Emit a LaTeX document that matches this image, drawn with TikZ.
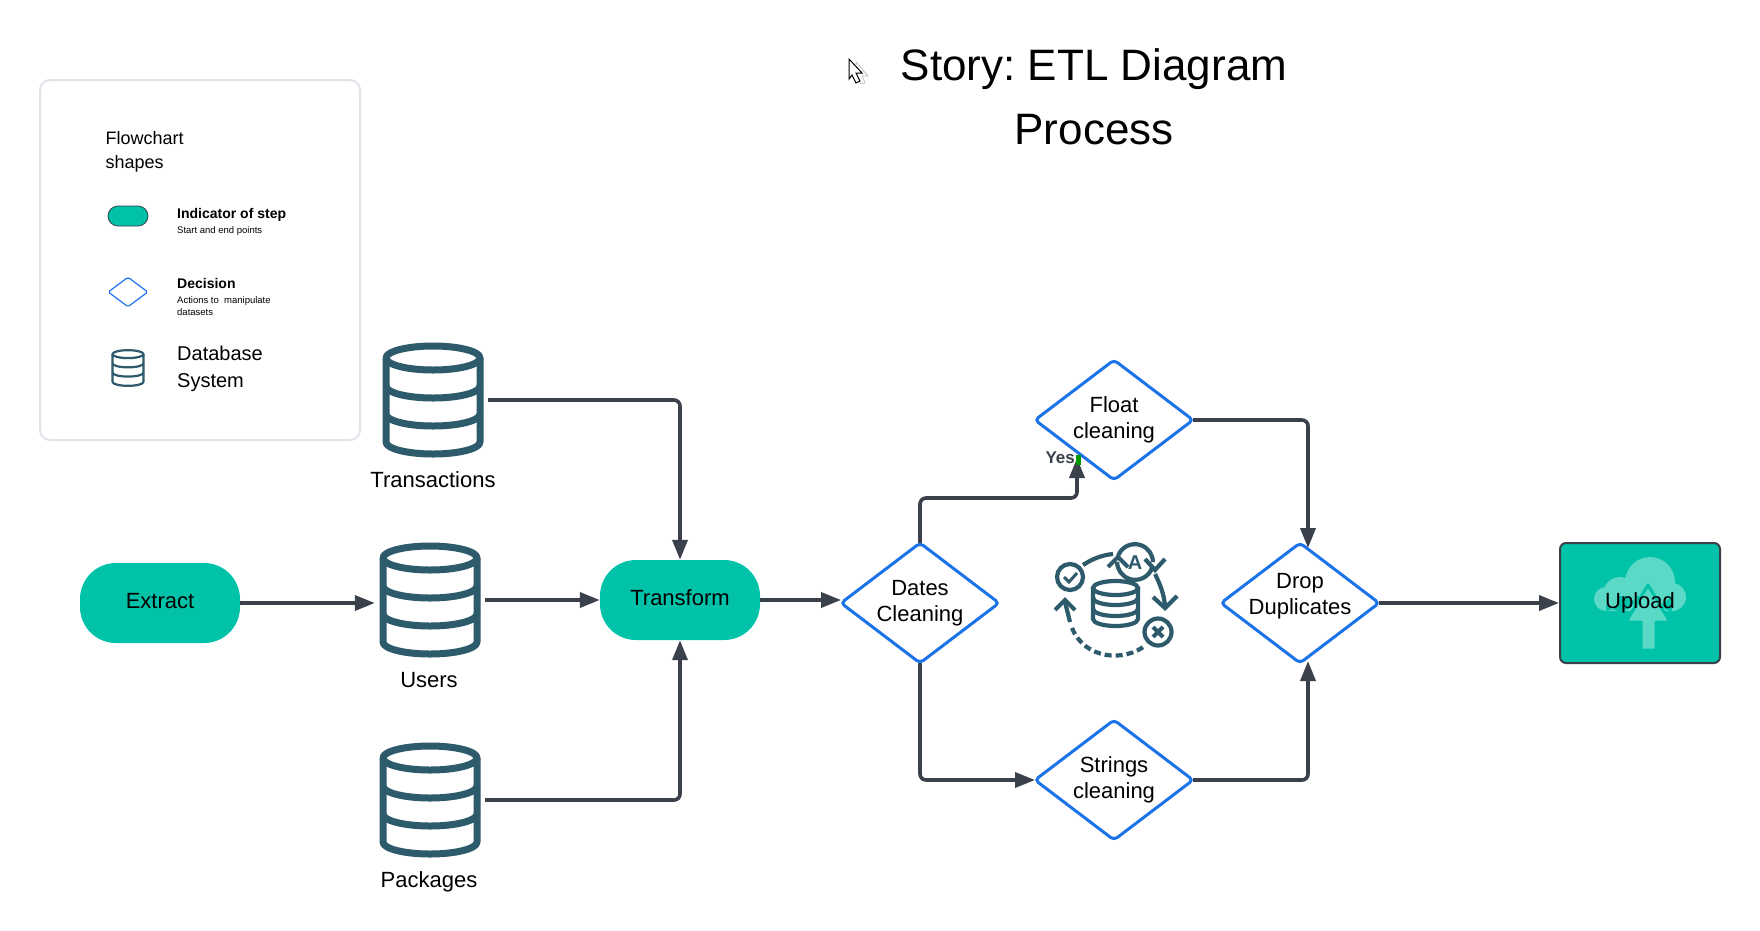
\documentclass[tikz,border=0pt]{standalone}
\usepackage{fontspec}
\setmainfont{Liberation Sans}
\frenchspacing
\usetikzlibrary{shapes.geometric, arrows.meta, positioning, calc}
\definecolor{stepteal}{RGB}{0, 194, 168}
\definecolor{cloudteal}{RGB}{90, 217, 199}
\definecolor{decisionblue}{RGB}{26, 115, 232}
\definecolor{linedark}{RGB}{58, 65, 74}
\definecolor{dbslate}{RGB}{45, 91, 107}
\definecolor{legendgrey}{RGB}{224, 227, 234}
\newcommand{\fs}[1]{\fontsize{#1}{1.18\dimexpr#1pt\relax}\selectfont}
\tikzstyle{stepnode} = [rectangle, rounded corners=35.9pt, fill=stepteal, minimum width=160pt, minimum height=80pt, font=\fs{22}, inner sep=0pt, text height=16pt, text depth=6pt]
\tikzstyle{decision} = [diamond, draw=decisionblue, fill=white, aspect=1.32, rounded corners=4pt, minimum width=158pt, minimum height=120pt, font=\fs{22}, align=center, inner sep=0pt, outer sep=0pt, line width=3pt]
\tikzstyle{dbnode} = [rectangle, minimum width=110pt, minimum height=112pt, inner sep=0pt]
\tikzstyle{label} = [font=\fs{22}, inner sep=0pt]
\tikzstyle{legendtext} = [anchor=base west, inner sep=0pt, align=left]
\tikzstyle{arrow} = [-{Stealth[inset=0pt, length=20pt, width=15pt]}, draw=linedark, line width=3.6pt, rounded corners=6pt]
\newcommand{\dbicon}[3]{%
  \begin{scope}[shift={(#1)}, scale=#2, draw=dbslate, line width=#3, line join=round]
    \draw (0,-42) ellipse [x radius=47, y radius=12];
    \draw (-47,-42) -- (-47,42) arc [start angle=180, end angle=0, x radius=47, y radius=12] -- (47,-42);
    \draw (-47,-14) arc [start angle=180, end angle=0, x radius=47, y radius=12];
    \draw (-47,14) arc [start angle=180, end angle=0, x radius=47, y radius=12];
  \end{scope}}
\begin{document}
\begin{tikzpicture}[x=1pt, y=-1pt]
    \useasboundingbox (0,0) rectangle (1760,930);

    % Title
    \node[font=\fs{44}, align=center, inner sep=0pt] (title) at (1094,97) {Story: ETL Diagram\\[12pt]Process};

    % Cursor
    \draw[gray!50, fill=white, line width=0.8pt] (856,62) -- (868,76) -- (862,76) -- (865,83) -- (861,84) -- (858,78) -- (856,80) -- cycle;
    \draw[black, fill=white, line width=1pt] (849,59) -- (862,73) -- (856,73) -- (860,81) -- (856,83) -- (852,75) -- (849,79) -- cycle;

    % Legend
    \node[rectangle, draw=legendgrey, fill=white, line width=2pt, rounded corners=10pt, minimum width=320pt, minimum height=360pt] (legend) at (200,260) {};
    \node[legendtext, font=\fs{18}] (legendtitle) at (105.5,144) {Flowchart};
    \node[legendtext, font=\fs{18}] (legendtitleb) at (105.5,168) {shapes};
    \node[rectangle, draw=linedark, fill=stepteal, line width=0.8pt, rounded corners=10pt, minimum width=40pt, minimum height=20pt, inner sep=0pt] (legendstep) at (128,216) {};
    \node[legendtext, font=\fs{14}\bfseries] (steptitle) at (177,218) {Indicator of step};
    \node[legendtext, font=\fs{9.5}] (steptext) at (177,233) {Start and end points};
    \node[diamond, draw=decisionblue, line width=1.2pt, aspect=1.33, rounded corners=1.5pt, minimum width=40pt, minimum height=30pt, inner sep=0pt] (legenddec) at (128,292) {};
    \node[legendtext, font=\fs{14}\bfseries] (dectitle) at (177,288) {Decision};
    \node[legendtext, font=\fs{9.5}] (dectext) at (177,303) {Actions to \ manipulate};
    \node[legendtext, font=\fs{9.5}] (dectextb) at (177,315) {datasets};
    \dbicon{128,368}{0.33}{2.2pt}
    \node[legendtext, font=\fs{20}] (legenddb) at (177,360) {Database};
    \node[legendtext, font=\fs{20}] (legenddbb) at (177,387) {System};

    % Databases
    \node[dbnode] (transactions) at (433,400) {};
    \dbicon{433,400}{1}{7pt}
    \node[label] (transactionslabel) at (433,480) {Transactions};
    \node[dbnode] (users) at (430,600) {};
    \dbicon{430,600}{1}{7pt}
    \node[label] (userslabel) at (429,680) {Users};
    \node[dbnode] (packages) at (430,800) {};
    \dbicon{430,800}{1}{7pt}
    \node[label] (packageslabel) at (429,882) {Packages};

    % Steps
    \node[stepnode] (extract) at (160,603) {Extract};
    \node[stepnode] (transform) at (680,600) {Transform};

    % Decisions
    \node[decision] (dates) at (920,603) {Dates\\Cleaning};
    \node[decision] (float) at (1114,420) {Float\\cleaning};
    \node[decision] (strings) at (1114,780) {Strings\\cleaning};
    \node[decision] (drop) at (1300,603) {};
    \node[label, align=center] (droptext) at (1300,596) {Drop\\Duplicates};

    % Upload
    \node[rectangle, draw=linedark, fill=stepteal, line width=2pt, rounded corners=6pt, minimum width=160pt, minimum height=120pt] (uploadbox) at (1640,603) {};
    \fill[cloudteal] (1650,582) circle (25) (1620,594) circle (17) (1606,599) circle (12) (1672,597) circle (14) (1606,596) rectangle (1672,611);
    \draw[stepteal, fill=cloudteal, line width=3pt, line join=round] (1648,585) -- (1670,622) -- (1656,622) -- (1656,650) -- (1641,650) -- (1641,622) -- (1626,622) -- cycle;
    \node[label] (upload) at (1640,603) {Upload};

    % Central icon
    \begin{scope}[draw=dbslate, line width=4.2pt]
      \draw (1070,577) circle (13);
      \draw[line width=3pt] (1064,577) -- (1069,582) -- (1077,573);
      \draw (1158,632) circle (13.5);
      \draw[line width=4pt] (1153,627) -- (1163,637) (1163,627) -- (1153,637);
      \draw (1118,556) arc [start angle=200, end angle=360, radius=18];
      \draw (1152,568) arc [start angle=20, end angle=180, radius=18];
      \node[font=\fs{20}\bfseries, text=dbslate, inner sep=0pt] (iconletter) at (1135,563) {A};
      \draw (1083,565) .. controls (1092,559) and (1102,555) .. (1113,554);
      \draw (1108,567) -- (1118,557) -- (1128,567);
      \draw (1145,559) -- (1155,570) -- (1165,559);
      \draw (1155,574) .. controls (1160,584) and (1164,594) .. (1165,606);
      \draw (1153,597) -- (1165,608) -- (1177,596);
      \draw (1065,602) -- (1070,622);
      \draw[dash pattern=on 7pt off 4pt] (1072,628) .. controls (1085,660) and (1125,662) .. (1146,645);
      \draw (1055,610) -- (1065,600) -- (1075,610);
      \draw[line join=round] (1093,588) -- (1093,619) arc [start angle=180, end angle=0, x radius=22.5, y radius=7] -- (1138,588);
      \draw (1115.5,588) ellipse [x radius=22.5, y radius=7];
      \draw (1093,598) arc [start angle=180, end angle=0, x radius=22.5, y radius=7];
      \draw (1093,609) arc [start angle=180, end angle=0, x radius=22.5, y radius=7];
    \end{scope}

    % Arrow targets
    \coordinate (floatturn) at (1077,498);
    \coordinate (floatin) at (1077,458);

    % Arrows
    \draw[arrow] (extract.east) -- (extract.east -| users.west);
    \draw[arrow] (users.east) -- (transform.west);
    \draw[arrow] (transactions.east) -| (transform.north);
    \draw[arrow] (packages.east) -| (transform.south);
    \draw[arrow] (transform.east) -- (dates.west |- transform.east);
    \draw[arrow] (dates.north) |- (floatturn) -- (floatin);
    \draw[arrow] (dates.south) |- (strings.west);
    \draw[arrow] (float.east) -| ([xshift=8pt, yshift=-5pt]drop.north);
    \draw[arrow] (strings.east) -| ([xshift=8pt, yshift=2pt]drop.south);
    \draw[arrow] (drop.east) -- (uploadbox.west);

    % Yes label
    \node[font=\fs{17}\bfseries, text=linedark, inner sep=0pt, anchor=base east] (yes) at (1075,463) {Yes};
    \fill[green!60!black] (1075.5,455) rectangle (1081,465);
\end{tikzpicture}
\end{document}
